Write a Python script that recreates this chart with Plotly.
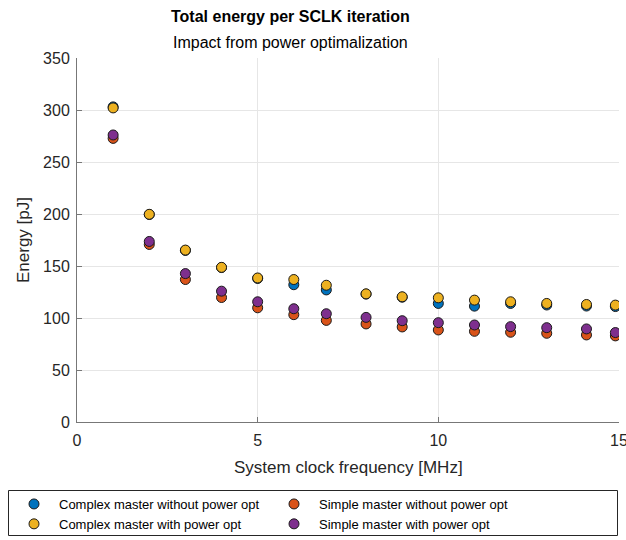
import plotly.graph_objects as go

freq = [1, 2, 3, 4, 5, 6, 6.9, 8, 9, 10, 11, 12, 13, 14.1, 14.9]
complex_without = [303, 199.5, 165, 148.5, 138, 132, 127, 123, 120, 114, 111.4, 114, 112.5, 111.5, 111]
complex_with = [302, 199.7, 165.3, 148.7, 138.5, 137, 131.5, 123.2, 120.4, 119.4, 117.2, 115.6, 114, 113, 112.4]
simple_without = [272.7, 170.7, 137, 119.7, 109.8, 103.2, 97.7, 94.3, 91.4, 88.5, 87.2, 86.3, 85.3, 83.7, 82.8]
simple_with = [276, 173.6, 142.7, 125.8, 115.6, 108.9, 104.1, 100.6, 97.4, 95.5, 93.3, 91.7, 90.7, 89.5, 86]

series = [
    ("Complex master without power opt", complex_without, "#0072BD"),
    ("Simple master without power opt", simple_without, "#D95319"),
    ("Complex master with power opt", complex_with, "#EDB120"),
    ("Simple master with power opt", simple_with, "#7E2F8E"),
]

fig = go.Figure()
for name, vals, col in series:
    fig.add_trace(go.Scatter(
        x=freq, y=vals, mode="markers", name=name,
        marker=dict(size=10, color=col, line=dict(color="#1a1a1a", width=1)),
    ))

font_family = "Liberation Sans, Arial, Helvetica, sans-serif"
txt = "#262626"
axc = "#777777"

L, R, T, B = 77, 7, 58, 118
W, H = 626, 540
pw = W - L - R
ph = H - T - B


def px_x(p):
    return (p - L) / pw


def px_y(p):
    return (H - B - p) / ph


fig.update_layout(
    width=W, height=H,
    margin=dict(l=L, r=R, t=T, b=B, autoexpand=False),
    plot_bgcolor="white", paper_bgcolor="white",
    font=dict(family=font_family, color=txt, size=16),
    showlegend=True,
    legend=dict(
        orientation="h", x=px_x(9), xanchor="left",
        y=px_y(489), yanchor="top",
        entrywidth=205, entrywidthmode="pixels", itemwidth=40,
        borderwidth=0, bgcolor="rgba(0,0,0,0)",
        font=dict(size=13, color="#000000"),
        tracegroupgap=0,
    ),
    shapes=[
        dict(type="rect", xref="paper", yref="paper",
             x0=px_x(8.5), x1=px_x(617.5), y0=px_y(490.5), y1=px_y(535.5),
             line=dict(color="#262626", width=1), fillcolor="rgba(0,0,0,0)", layer="below"),
    ],
    xaxis=dict(
        range=[0, 15], tickvals=[0, 5, 10, 15], showgrid=True, gridcolor="#e6e6e6",
        zeroline=False, showline=True, linecolor=axc, linewidth=1,
        ticks="inside", ticklen=5, tickcolor=axc, ticklabelstandoff=4,
        ticklabeloverflow="allow",
        tickfont=dict(size=16),
    ),
    yaxis=dict(
        range=[0, 350], tickvals=list(range(0, 351, 50)), showgrid=True, gridcolor="#e6e6e6",
        zeroline=False, showline=True, linecolor=axc, linewidth=1,
        ticks="inside", ticklen=5, tickcolor=axc, ticklabelstandoff=3,
        tickfont=dict(size=16),
    ),
    annotations=[
        dict(text="<b>Total energy per SCLK iteration</b>", x=px_x(290), y=px_y(17),
             xref="paper", yref="paper", yanchor="middle",
             showarrow=False, font=dict(size=16, color="#000000")),
        dict(text="Impact from power optimalization", x=px_x(290), y=px_y(43),
             xref="paper", yref="paper", yanchor="middle",
             showarrow=False, font=dict(size=16, color="#000000")),
        dict(text="System clock frequency [MHz]", x=0.5, y=px_y(467), xref="paper", yref="paper",
             yanchor="middle", showarrow=False, font=dict(size=17, color=txt)),
        dict(text="Energy [pJ]", x=px_x(23), y=0.5, xref="paper", yref="paper", textangle=-90,
             xanchor="center", yanchor="middle", showarrow=False, font=dict(size=17, color=txt)),
    ],
)

fig.write_html("out.html")
